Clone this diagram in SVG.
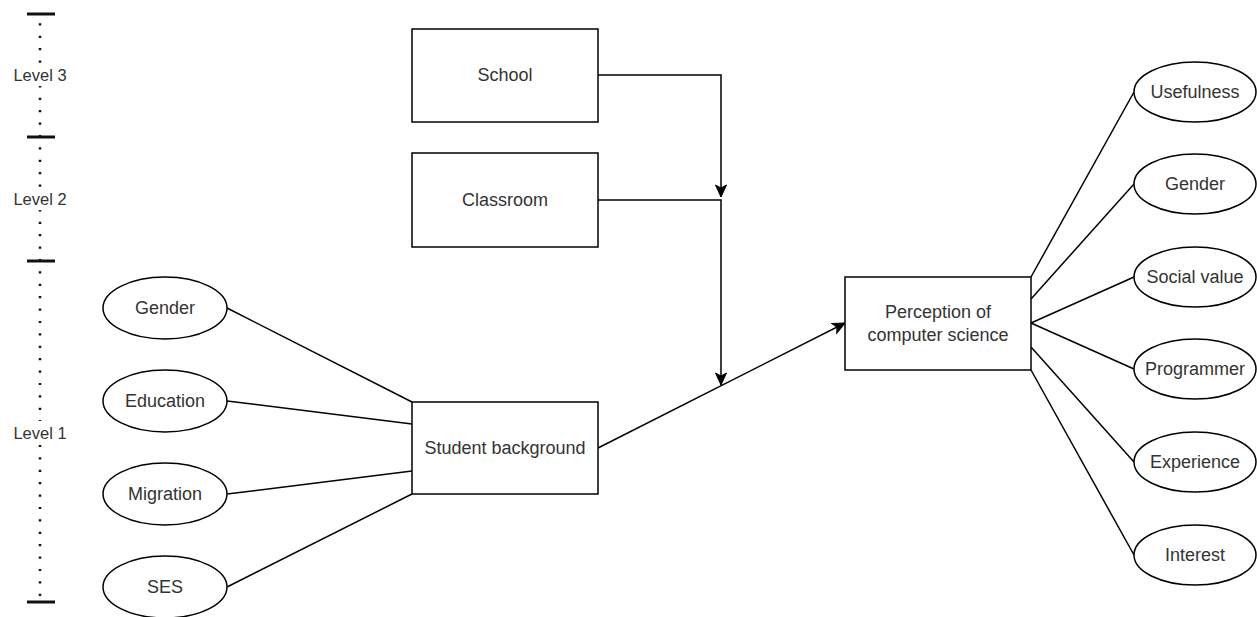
<svg xmlns="http://www.w3.org/2000/svg" width="1257" height="617" viewBox="0 0 1257 617">
<defs>
<style>
.box{fill:#fff;stroke:#000;stroke-width:1.5}
.ell{fill:#fff;stroke:#000;stroke-width:1.5}
.lbl{font-family:"Liberation Sans",Arial,sans-serif;font-size:18px;fill:#333;text-anchor:middle;dominant-baseline:central}
.lvl{font-family:"Liberation Sans",Arial,sans-serif;font-size:16.5px;fill:#333;text-anchor:middle;dominant-baseline:central}
.edge{fill:none;stroke:#000;stroke-width:1.5}
.tick{stroke:#111;stroke-width:3}
</style>
<marker id="arr" markerUnits="userSpaceOnUse" markerWidth="14" markerHeight="14" viewBox="0 0 14 14" refX="13" refY="7" orient="auto">
<path d="M1,1.5 L13,7 L1,12.5 L4,7 Z" fill="#000" stroke="#000" stroke-width="1"/>
</marker>
</defs>
<rect width="1257" height="617" fill="#fff"/>

<g id="scale">
<line x1="40" y1="14" x2="40" y2="602" stroke="#111" stroke-width="2.5" stroke-dasharray="2.2 10.2" stroke-dashoffset="3.1"/>
<line class="tick" x1="27" y1="14" x2="55" y2="14"/>
<line class="tick" x1="27" y1="137" x2="55" y2="137"/>
<line class="tick" x1="27" y1="261" x2="55" y2="261"/>
<line class="tick" x1="27" y1="602" x2="55" y2="602"/>
<rect x="12" y="64" width="56" height="22" fill="#fff"/>
<text class="lvl" x="40" y="75">Level 3</text>
<rect x="12" y="188" width="56" height="22" fill="#fff"/>
<text class="lvl" x="40" y="199">Level 2</text>
<rect x="12" y="421" width="56" height="24" fill="#fff"/>
<text class="lvl" x="40" y="433">Level 1</text>
</g>

<g id="connectors">
<path class="edge" d="M598,75 H721 V197" marker-end="url(#arr)"/>
<path class="edge" d="M598,200 H721 V385" marker-end="url(#arr)"/>
<path class="edge" d="M598,448 L845,323" marker-end="url(#arr)"/>
<line class="edge" x1="227" y1="308" x2="412" y2="402"/>
<line class="edge" x1="227" y1="401" x2="412" y2="424"/>
<line class="edge" x1="227" y1="494" x2="412" y2="471"/>
<line class="edge" x1="227" y1="587" x2="412" y2="494"/>
<line class="edge" x1="1031" y1="277" x2="1134" y2="92"/>
<line class="edge" x1="1031" y1="299" x2="1134" y2="184"/>
<line class="edge" x1="1031" y1="323" x2="1134" y2="277"/>
<line class="edge" x1="1031" y1="323" x2="1134" y2="369"/>
<line class="edge" x1="1031" y1="347" x2="1134" y2="462"/>
<line class="edge" x1="1031" y1="370" x2="1134" y2="555"/>
</g>

<g id="school"><rect class="box" x="412" y="29" width="186" height="93"/><text class="lbl" x="505" y="75">School</text></g>
<g id="classroom"><rect class="box" x="412" y="153" width="186" height="94"/><text class="lbl" x="505" y="200">Classroom</text></g>
<g id="student"><rect class="box" x="412" y="402" width="186" height="92"/><text class="lbl" x="505" y="448">Student background</text></g>
<g id="perception"><rect class="box" x="845" y="277" width="186" height="93"/><text class="lbl" x="938" y="312">Perception of</text><text class="lbl" x="938" y="335">computer science</text></g>

<g id="gender-l"><ellipse class="ell" cx="165" cy="308" rx="62" ry="31"/><text class="lbl" x="165" y="308">Gender</text></g>
<g id="education"><ellipse class="ell" cx="165" cy="401" rx="62" ry="31"/><text class="lbl" x="165" y="401">Education</text></g>
<g id="migration"><ellipse class="ell" cx="165" cy="494" rx="62" ry="31"/><text class="lbl" x="165" y="494">Migration</text></g>
<g id="ses"><ellipse class="ell" cx="165" cy="587" rx="62" ry="31"/><text class="lbl" x="165" y="587">SES</text></g>

<g id="usefulness"><ellipse class="ell" cx="1195" cy="92" rx="61" ry="30"/><text class="lbl" x="1195" y="92">Usefulness</text></g>
<g id="gender-r"><ellipse class="ell" cx="1195" cy="184" rx="61" ry="30"/><text class="lbl" x="1195" y="184">Gender</text></g>
<g id="social"><ellipse class="ell" cx="1195" cy="277" rx="61" ry="30"/><text class="lbl" x="1195" y="277">Social value</text></g>
<g id="programmer"><ellipse class="ell" cx="1195" cy="369" rx="61" ry="30"/><text class="lbl" x="1195" y="369">Programmer</text></g>
<g id="experience"><ellipse class="ell" cx="1195" cy="462" rx="61" ry="30"/><text class="lbl" x="1195" y="462">Experience</text></g>
<g id="interest"><ellipse class="ell" cx="1195" cy="555" rx="61" ry="30"/><text class="lbl" x="1195" y="555">Interest</text></g>
</svg>
